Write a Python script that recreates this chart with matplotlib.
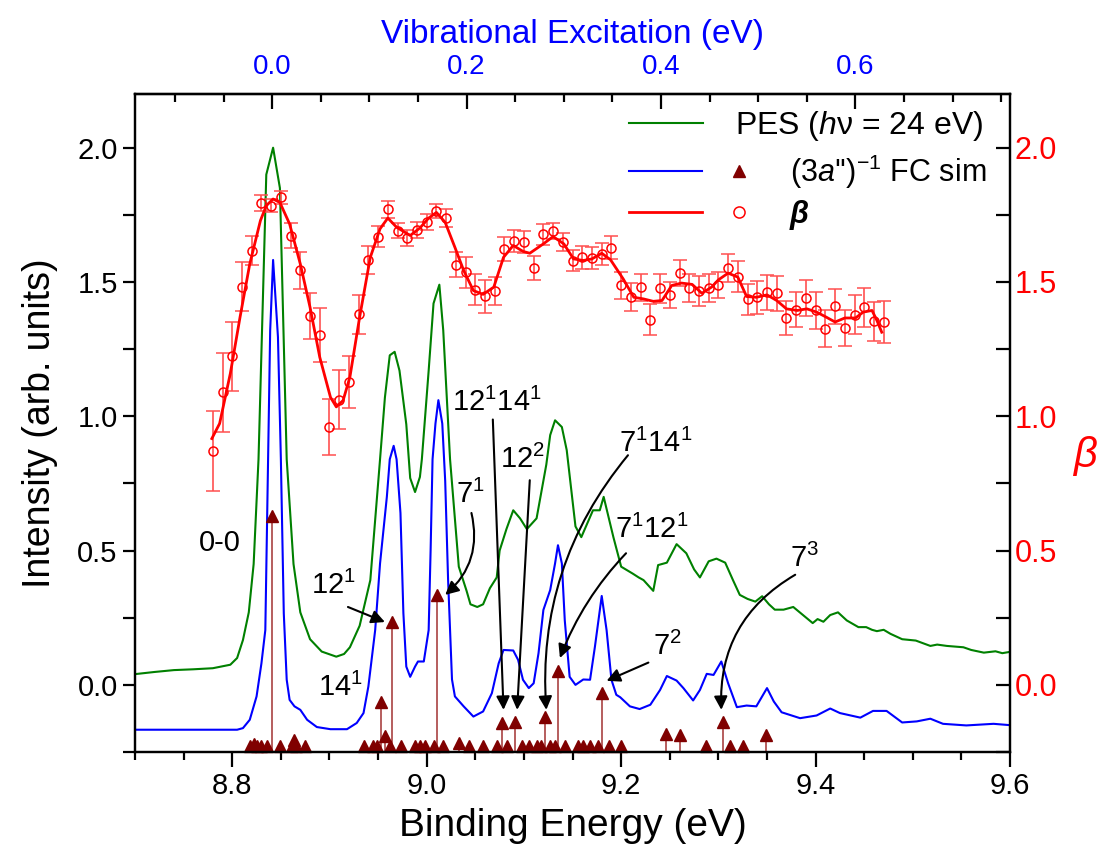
import matplotlib
matplotlib.use('Agg')
import matplotlib.pyplot as plt
from matplotlib.lines import Line2D
from matplotlib.legend_handler import HandlerTuple
from matplotlib.ticker import MultipleLocator

plt.rcParams['font.family'] = ['Liberation Sans', 'DejaVu Sans']
plt.rcParams['mathtext.fontset'] = 'custom'
plt.rcParams['mathtext.rm'] = 'Liberation Sans'
plt.rcParams['mathtext.it'] = 'Liberation Sans:italic'
plt.rcParams['mathtext.bf'] = 'Liberation Sans:bold'
plt.rcParams['axes.linewidth'] = 1.6

# PES spectrum (hv = 24 eV), binding energy (eV) / intensity
pes_e = [8.700, 8.720, 8.740, 8.760, 8.780, 8.798, 8.805, 8.811, 8.817, 8.822,
         8.827, 8.835, 8.842, 8.849, 8.856, 8.863, 8.870, 8.880, 8.892, 8.907,
         8.915, 8.921, 8.931, 8.942, 8.952, 8.957, 8.962, 8.967, 8.972, 8.979,
         8.983, 8.988, 8.993, 8.995, 9.002, 9.007, 9.013, 9.017, 9.024, 9.033,
         9.041, 9.045, 9.052, 9.058, 9.065, 9.072, 9.075, 9.082, 9.089, 9.096,
         9.103, 9.108, 9.113, 9.123, 9.127, 9.132, 9.139, 9.144, 9.153, 9.159,
         9.165, 9.171, 9.178, 9.182, 9.192, 9.200, 9.212, 9.218, 9.223, 9.233,
         9.238, 9.247, 9.257, 9.267, 9.275, 9.281, 9.290, 9.298, 9.307, 9.315,
         9.322, 9.330, 9.338, 9.345, 9.352, 9.358, 9.367, 9.377, 9.387, 9.397,
         9.402, 9.408, 9.415, 9.423, 9.432, 9.444, 9.452, 9.458, 9.463, 9.470,
         9.477, 9.489, 9.503, 9.518, 9.525, 9.535, 9.552, 9.560, 9.573, 9.585,
         9.592, 9.600]
pes_i = [0.040, 0.048, 0.055, 0.058, 0.062, 0.075, 0.100, 0.167, 0.270, 0.450,
         0.840, 1.900, 2.000, 1.850, 0.840, 0.450, 0.270, 0.170, 0.124, 0.105,
         0.115, 0.140, 0.220, 0.390, 0.840, 1.070, 1.227, 1.240, 1.170, 0.970,
         0.770, 0.718, 0.774, 0.840, 1.170, 1.420, 1.490, 1.320, 0.840, 0.440,
         0.350, 0.300, 0.290, 0.300, 0.360, 0.400, 0.500, 0.580, 0.650, 0.620,
         0.580, 0.600, 0.620, 0.820, 0.930, 0.985, 0.960, 0.874, 0.590, 0.550,
         0.600, 0.650, 0.650, 0.700, 0.550, 0.440, 0.414, 0.400, 0.390, 0.350,
         0.446, 0.455, 0.524, 0.490, 0.430, 0.400, 0.460, 0.470, 0.455, 0.390,
         0.335, 0.320, 0.310, 0.330, 0.300, 0.280, 0.280, 0.290, 0.260, 0.230,
         0.245, 0.235, 0.260, 0.270, 0.240, 0.215, 0.215, 0.205, 0.200, 0.205,
         0.190, 0.170, 0.165, 0.145, 0.150, 0.145, 0.140, 0.130, 0.120, 0.125,
         0.118, 0.123]

# (3a'')^-1 Franck-Condon simulation, convolved curve
fc_e = [8.700, 8.750, 8.805, 8.811, 8.818, 8.825, 8.830, 8.834, 8.839, 8.842,
        8.847, 8.850, 8.853, 8.856, 8.859, 8.864, 8.870, 8.877, 8.887, 8.901,
        8.918, 8.928, 8.935, 8.940, 8.947, 8.952, 8.959, 8.962, 8.966, 8.969,
        8.973, 8.976, 8.979, 8.983, 8.988, 8.991, 8.997, 9.002, 9.004, 9.006,
        9.009, 9.012, 9.016, 9.019, 9.022, 9.026, 9.029, 9.038, 9.048, 9.058,
        9.067, 9.074, 9.079, 9.089, 9.094, 9.099, 9.105, 9.110, 9.115, 9.120,
        9.127, 9.132, 9.135, 9.139, 9.142, 9.147, 9.153, 9.161, 9.168, 9.173,
        9.180, 9.185, 9.190, 9.195, 9.199, 9.209, 9.219, 9.230, 9.240, 9.247,
        9.257, 9.264, 9.274, 9.281, 9.288, 9.295, 9.303, 9.310, 9.319, 9.329,
        9.339, 9.350, 9.357, 9.365, 9.384, 9.401, 9.415, 9.425, 9.446, 9.459,
        9.473, 9.489, 9.504, 9.518, 9.531, 9.555, 9.583, 9.600]
fc_i = [-0.167, -0.167, -0.167, -0.161, -0.130, -0.043, 0.080, 0.204, 1.320, 1.582,
        1.295, 0.840, 0.266, 0.019, -0.056, -0.080, -0.093, -0.130, -0.157, -0.165,
        -0.165, -0.142, -0.105, -0.006, 0.204, 0.452, 0.700, 0.840, 0.890, 0.840,
        0.640, 0.267, 0.068, 0.030, 0.068, 0.087, 0.087, 0.204, 0.500, 0.840,
        0.973, 1.060, 0.973, 0.760, 0.390, 0.020, -0.043, -0.080, -0.118, -0.099,
        -0.031, 0.080, 0.130, 0.128, 0.093, 0.019, -0.012, 0.006, 0.118, 0.279,
        0.353, 0.452, 0.520, 0.452, 0.240, 0.030, 0.000, 0.020, 0.019, 0.142,
        0.331, 0.204, 0.019, -0.037, -0.046, -0.080, -0.090, -0.074, -0.019, 0.033,
        0.016, -0.012, -0.058, -0.019, 0.041, 0.037, 0.087, 0.006, -0.083, -0.077,
        -0.080, -0.012, -0.062, -0.102, -0.124, -0.114, -0.088, -0.105, -0.122, -0.097,
        -0.097, -0.140, -0.136, -0.126, -0.145, -0.151, -0.145, -0.150]

# FC stick spectrum: positions and stick tops (baseline at -0.25)
stick_e = [8.818, 8.822, 8.825, 8.830, 8.836, 8.841, 8.849, 8.861, 8.864, 8.866,
           8.875, 8.935, 8.945, 8.949, 8.953, 8.957, 8.962, 8.964, 8.974, 8.988,
           8.993, 8.998, 9.007, 9.011, 9.017, 9.033, 9.043, 9.058, 9.072, 9.077,
           9.083, 9.091, 9.098, 9.105, 9.113, 9.118, 9.122, 9.127, 9.132, 9.135,
           9.142, 9.156, 9.161, 9.168, 9.176, 9.180, 9.187, 9.200, 9.246, 9.260,
           9.287, 9.305, 9.312, 9.325, 9.349]
stick_top = [-0.228, -0.222, -0.228, -0.228, -0.228, 0.630, -0.228, -0.228, -0.205, -0.228,
             -0.228, -0.228, -0.228, -0.228, -0.063, -0.190, -0.228, 0.235, -0.228, -0.228,
             -0.228, -0.228, -0.228, 0.335, -0.228, -0.216, -0.228, -0.228, -0.228, -0.143,
             -0.228, -0.139, -0.228, -0.228, -0.228, -0.228, -0.120, -0.228, -0.228, 0.050,
             -0.228, -0.228, -0.228, -0.228, -0.228, -0.031, -0.228, -0.228, -0.183, -0.188,
             -0.228, -0.140, -0.228, -0.228, -0.185]

# photoelectron anisotropy parameter beta with error bars
beta_e = [8.78, 8.79, 8.80, 8.81, 8.82, 8.83, 8.84, 8.85, 8.86, 8.87,
          8.88, 8.89, 8.90, 8.91, 8.92, 8.93, 8.94, 8.95, 8.96, 8.97,
          8.98, 8.99, 9.00, 9.01, 9.02, 9.03, 9.04, 9.05, 9.06, 9.07,
          9.08, 9.09, 9.10, 9.11, 9.12, 9.13, 9.14, 9.15, 9.16, 9.17,
          9.18, 9.19, 9.20, 9.21, 9.22, 9.23, 9.24, 9.25, 9.26, 9.27,
          9.28, 9.29, 9.30, 9.31, 9.32, 9.33, 9.34, 9.35, 9.36, 9.37,
          9.38, 9.39, 9.40, 9.41, 9.42, 9.43, 9.44, 9.45, 9.46, 9.47]
beta_val = [0.871, 1.089, 1.223, 1.483, 1.617, 1.793, 1.784, 1.815, 1.673, 1.543,
            1.374, 1.303, 0.960, 1.062, 1.128, 1.379, 1.582, 1.669, 1.770, 1.691,
            1.664, 1.694, 1.722, 1.765, 1.738, 1.565, 1.536, 1.471, 1.446, 1.468,
            1.623, 1.652, 1.648, 1.551, 1.677, 1.691, 1.648, 1.580, 1.592, 1.590,
            1.604, 1.628, 1.487, 1.443, 1.481, 1.360, 1.477, 1.453, 1.533, 1.478,
            1.468, 1.477, 1.489, 1.552, 1.520, 1.435, 1.443, 1.462, 1.458, 1.366,
            1.397, 1.440, 1.394, 1.326, 1.409, 1.329, 1.378, 1.406, 1.353, 1.351]
beta_err = [0.150, 0.146, 0.127, 0.090, 0.054, 0.030, 0.025, 0.025, 0.046, 0.068,
            0.086, 0.100, 0.105, 0.109, 0.098, 0.074, 0.053, 0.040, 0.033, 0.028,
            0.030, 0.030, 0.030, 0.025, 0.035, 0.048, 0.058, 0.058, 0.062, 0.052,
            0.043, 0.040, 0.040, 0.045, 0.038, 0.030, 0.034, 0.040, 0.043, 0.040,
            0.040, 0.042, 0.052, 0.052, 0.050, 0.059, 0.054, 0.048, 0.048, 0.052,
            0.056, 0.053, 0.050, 0.053, 0.057, 0.059, 0.062, 0.065, 0.065, 0.064,
            0.064, 0.068, 0.070, 0.068, 0.065, 0.068, 0.072, 0.073, 0.074, 0.078]

# smoothed beta curve
fit_e = [8.779, 8.787, 8.798, 8.808, 8.818, 8.829, 8.835, 8.842, 8.849, 8.859,
         8.870, 8.880, 8.890, 8.901, 8.907, 8.914, 8.921, 8.931, 8.942, 8.952,
         8.960, 8.969, 8.983, 8.993, 9.002, 9.010, 9.019, 9.029, 9.038, 9.048,
         9.058, 9.069, 9.079, 9.089, 9.099, 9.106, 9.120, 9.130, 9.141, 9.151,
         9.161, 9.170, 9.180, 9.189, 9.202, 9.213, 9.223, 9.233, 9.242, 9.252,
         9.262, 9.273, 9.283, 9.293, 9.300, 9.310, 9.320, 9.329, 9.339, 9.350,
         9.360, 9.370, 9.381, 9.391, 9.401, 9.411, 9.420, 9.430, 9.441, 9.449,
         9.458, 9.463, 9.468]
fit_b = [0.917, 0.973, 1.159, 1.369, 1.567, 1.729, 1.784, 1.809, 1.796, 1.716,
         1.567, 1.406, 1.220, 1.071, 1.035, 1.059, 1.146, 1.369, 1.592, 1.698,
         1.738, 1.704, 1.673, 1.701, 1.738, 1.759, 1.722, 1.629, 1.543, 1.468,
         1.454, 1.481, 1.592, 1.636, 1.614, 1.607, 1.642, 1.669, 1.642, 1.586,
         1.580, 1.586, 1.607, 1.583, 1.512, 1.443, 1.437, 1.428, 1.431, 1.487,
         1.496, 1.491, 1.458, 1.481, 1.508, 1.533, 1.518, 1.446, 1.443, 1.452,
         1.431, 1.400, 1.394, 1.400, 1.388, 1.369, 1.351, 1.366, 1.366, 1.388,
         1.394, 1.357, 1.313]

# vibrational assignments: label, label position, arrow start, arrow tip, curvature
labels = [r'0-0', r'12$^1$', r'14$^1$', r'7$^1$', r'12$^1$14$^1$', r'12$^2$',
          r'7$^1$14$^1$', r'7$^1$12$^1$', r'7$^2$', r'7$^3$']
label_xy = [(8.787, 0.53), (8.904, 0.37), (8.911, -0.01), (9.045, 0.71), (9.072, 1.05),
            (9.098, 0.84), (9.236, 0.90), (9.231, 0.58), (9.247, 0.142), (9.389, 0.47)]
arrow_from = [None, (8.919, 0.29), None, (9.046, 0.64), (9.068, 0.988),
              (9.106, 0.762), (9.207, 0.855), (9.205, 0.49), (9.228, 0.083), (9.379, 0.41)]
arrow_to = [None, (8.957, 0.234), None, (9.019, 0.335), (9.079, -0.093),
            (9.093, -0.093), (9.123, -0.093), (9.137, 0.10), (9.185, 0.015), (9.303, -0.093)]
arrow_rad = [0, 0, 0, -0.3, 0, 0, 0.2, 0.1, 0, 0.3]

origin_00 = 8.841  # 0-0 band position for the top axis

fig = plt.figure(figsize=(11.05, 8.63), dpi=100)
ax = fig.add_axes([0.1222, 0.1286, 0.7919, 0.7625])

ln_pes, = ax.plot(pes_e, pes_i, color='#008000', lw=1.5)
ln_fc, = ax.plot(fc_e, fc_i, color='#0000ff', lw=1.5)
ax.vlines(stick_e, -0.25, stick_top, color='#b05050', lw=1.3)
ax.plot(stick_e, stick_top, ls='none', marker='^', ms=8.5, color='#800000', clip_on=False)

for lab, pos, a0, a1, rad in zip(labels, label_xy, arrow_from, arrow_to, arrow_rad):
    ax.text(pos[0], pos[1], lab, fontsize=21, ha='center', va='center')
    if a0 is not None:
        ax.annotate('', xy=a1, xytext=a0,
                    arrowprops=dict(arrowstyle='-|>', color='k', lw=1.5,
                                    mutation_scale=20, shrinkA=0, shrinkB=0,
                                    connectionstyle=f'arc3,rad={rad}'))

ax.set_xlim(8.7, 9.6)
ax.set_ylim(-0.25, 2.2)
ax.xaxis.set_major_locator(MultipleLocator(0.2))
ax.xaxis.set_minor_locator(MultipleLocator(0.05))
ax.yaxis.set_major_locator(MultipleLocator(0.5))
ax.yaxis.set_minor_locator(MultipleLocator(0.25))
ax.tick_params(axis='x', which='major', direction='out', length=11, width=1.6, labelsize=21, top=False)
ax.tick_params(axis='x', which='minor', direction='out', length=6, width=1.6, top=False)
ax.tick_params(axis='y', which='both', direction='out', length=9, width=1.6, labelsize=21, right=False)
ax.set_xlabel('Binding Energy (eV)', fontsize=28, labelpad=6)
ax.set_ylabel('Intensity (arb. units)', fontsize=27, labelpad=14)

ax2 = ax.twinx()
ax2.set_ylim(-0.25, 2.2)
ax2.errorbar(beta_e, beta_val, yerr=beta_err, fmt='o', ms=6.5, mfc='none', mec='#ff0000',
             mew=1.1, ecolor='#ff5050', elinewidth=1.2, capsize=5, capthick=1.2)
ln_fit, = ax2.plot(fit_e, fit_b, color='#ff0000', lw=2)
ax2.yaxis.set_major_locator(MultipleLocator(0.5))
ax2.yaxis.set_minor_locator(MultipleLocator(0.25))
ax2.tick_params(axis='y', which='both', direction='in', length=10, width=1.6,
                labelsize=22, labelcolor='#ff0000')
ax2.set_ylabel('β', color='#ff0000', fontsize=30, fontstyle='italic', rotation=0)
ax2.yaxis.set_label_coords(1.086, 0.48)

top = ax.secondary_xaxis('top', functions=(lambda x: x - origin_00, lambda x: x + origin_00))
top.xaxis.set_major_locator(MultipleLocator(0.2))
top.xaxis.set_minor_locator(MultipleLocator(0.05))
top.tick_params(axis='x', which='major', direction='in', length=11, width=1.6, pad=10,
                labelsize=20, labelcolor='#0000ff')
top.tick_params(axis='x', which='minor', direction='in', length=6, width=1.6)
top.set_xlabel('Vibrational Excitation (eV)', fontsize=24, color='#0000ff', labelpad=8)

# legend: PES on its own row, the other two with line + marker
tri = Line2D([], [], ls='none', marker='^', ms=9, color='#800000')
circ = Line2D([], [], ls='none', marker='o', ms=8, mfc='none', mec='#ff0000', mew=1.1)
leg1 = ax2.legend([ln_pes], [r'PES ($\mathit{h}$ν = 24 eV)'], loc='center left',
                  bbox_to_anchor=(0.5646, 0.951), frameon=False, fontsize=23,
                  handlelength=2.3, handletextpad=1.0, borderpad=0, borderaxespad=0)
ax2.add_artist(leg1)
leg2 = ax2.legend([(ln_fc, tri), (ln_fit, circ)],
                  [r"(3$\mathit{a}$'')$^{-1}$ FC sim", 'β'],
                  handler_map={tuple: HandlerTuple(ndivide=None, pad=0)},
                  loc='center left', bbox_to_anchor=(0.5646, 0.852), frameon=False,
                  fontsize=22, handlelength=4.8, handletextpad=0.45, labelspacing=0.3,
                  borderpad=0, borderaxespad=0)
leg2.get_texts()[1].set_fontstyle('italic')
leg2.get_texts()[1].set_fontweight('bold')

fig.savefig('out.png', dpi=100)
